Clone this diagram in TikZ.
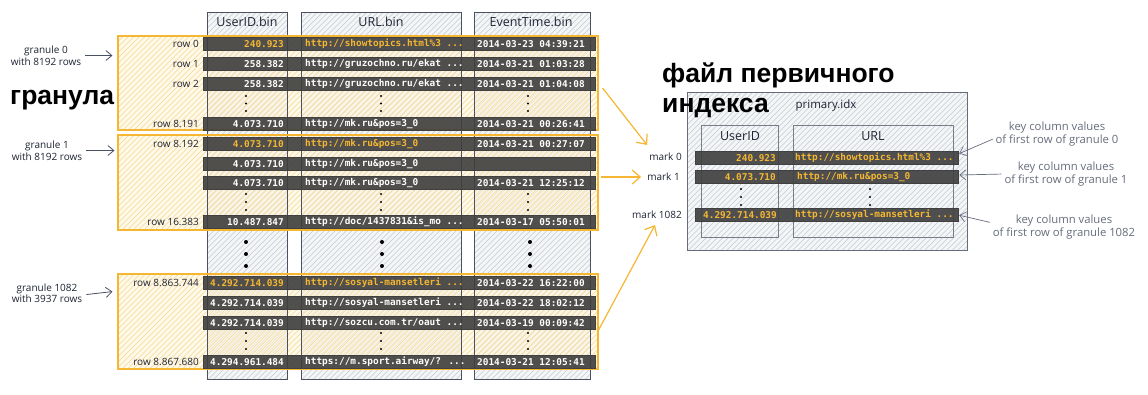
\documentclass[tikz,border=0pt]{standalone}
\usepackage{fontspec}
\setmainfont{Open Sans}
\newfontfamily\monof{DejaVu Sans Mono}
\newfontfamily\bigf{Liberation Sans}
\newfontfamily\handf{Open Sans}
\usetikzlibrary{arrows.meta,calc}
\definecolor{ink}{HTML}{1E2433}
\definecolor{slate}{HTML}{4A5162}
\definecolor{amber}{HTML}{F5B731}
\definecolor{amberfill}{HTML}{FFF5DC}
\definecolor{hatchy}{HTML}{F6D78F}
\definecolor{colfill}{HTML}{F4F5F7}
\definecolor{hatchg}{HTML}{C4C9D1}
\definecolor{barc}{HTML}{3E3E3E}
\definecolor{hl}{HTML}{F5B731}
\definecolor{note}{HTML}{666D7C}
\tikzset{
  colbox/.style={draw=slate, line width=0.9pt, inner sep=0},
  granbox/.style={draw=amber, line width=1.1pt, minimum width=480pt, minimum height=95pt, inner sep=0},
  barbox/.style={fill=barc, fill opacity=0.9, draw=black!75, line width=0.5pt,
    minimum width=392pt, minimum height=13pt, inner sep=0},
  ibarbox/.style={barbox, minimum width=263pt},
  celltxt/.style={font=\monof\bfseries\fontsize{9.4}{10}\selectfont, inner sep=0},
  rowlab/.style={font=\handf\fontsize{10}{11}\selectfont, text=ink, anchor=east, inner sep=0},
  hdr/.style={font=\handf\fontsize{12.5}{13}\selectfont, text=ink, inner sep=0},
  glab/.style={font=\handf\fontsize{10}{11.5}\selectfont, text=ink, align=center, inner sep=0},
  klab/.style={font=\handf\fontsize{11.3}{12.5}\selectfont, text=note, align=center, inner sep=0},
  garrow/.style={draw=slate, line width=0.8pt, -{Straight Barb[length=6pt,width=10pt]}},
  karrow/.style={draw=note, line width=0.7pt, -{Straight Barb[length=6pt,width=10pt]}},
  oarrow/.style={draw=amber, line width=1.2pt, -{Straight Barb[length=8pt,width=14pt]}},
  bigtxt/.style={font=\bigf\bfseries\fontsize{26.5}{30}\selectfont, text=black, inner sep=0},
  bdot/.style={circle, fill=black, inner sep=0, minimum size=4pt},
  sdot/.style={circle, fill=black, inner sep=0, minimum size=2.2pt},
}
% hatch a rectangle: x1 y1 x2 y2 (y1 top, y2 bottom), colour, spacing
\newcommand\hatchrect[6]{%
  \begin{scope}
  \clip (#1,#2) rectangle (#3,#4);
  \pgfmathsetmacro\hts{#1-(#4-#2)}
  \pgfmathsetmacro\htn{\hts+#6}
  \foreach \t in {\hts,\htn,...,#3} \draw[#5, line width=0.5pt] (\t,#4) -- ({\t+#4-#2},#2);
  \end{scope}}
\newcommand\colfillrect[4]{%
  \fill[colfill] (#1,#2) rectangle (#3,#4);
  \hatchrect{#1}{#2}{#3}{#4}{hatchg}{5.5}}
\newcommand\granfillrect[4]{%
  \fill[amberfill, fill opacity=0.6] (#1,#2) rectangle (#3,#4);
  \hatchrect{#1}{#2}{#3}{#4}{hatchy}{5.5}}
\newcommand\mkrow[6]{%
  \node[barbox] (#1) at (399,#2) {};
  \node[celltxt, text=#6, anchor=east] (#1u) at (284,#2) {#3};
  \node[celltxt, text=#6, anchor=west] (#1l) at (305,#2) {#4};
  \node[celltxt, text=white, anchor=west] (#1t) at (477,#2) {#5};
}
\newcommand\mkdots[4]{%
  \node[sdot] (#1a) at (#2,#3) {};
  \node[sdot] (#1b) at (#2,{(#3+#4)/2}) {};
  \node[sdot] (#1c) at (#2,#4) {};
}
\begin{document}
\begin{tikzpicture}[x=1pt,y=-1pt]
\fill[white] (0,0) rectangle (1148,394);
\useasboundingbox (0,0) rectangle (1148,394);

% columns
\colfillrect{207}{12}{287}{379}
\colfillrect{301}{12}{461}{379}
\colfillrect{474}{12}{590}{379}
% granule fills
\granfillrect{118}{36}{598}{130}
\granfillrect{118}{135}{598}{230}
\granfillrect{118}{274}{598}{369}
% column outlines
\node[colbox, minimum width=80pt, minimum height=367pt] (cU) at (247,195.5) {};
\node[colbox, minimum width=160pt, minimum height=367pt] (cL) at (381,195.5) {};
\node[colbox, minimum width=116pt, minimum height=367pt] (cT) at (532,195.5) {};
\node[hdr] (hU) at (247,22) {UserID.bin};
\node[hdr] (hL) at (381,22) {URL.bin};
\node[hdr] (hT) at (531,22) {EventTime.bin};

% granules
\node[granbox, minimum height=94pt] (G0) at (358,83) {};
\node[granbox] (G1) at (358,182.5) {};
\node[granbox] (G2) at (358,321.5) {};

% rows granule 0
\mkrow{r00}{44}{240.923}{http://showtopics.html\%3 ...}{2014-03-23 04:39:21}{hl}
\mkrow{r01}{64}{258.382}{http://gruzochno.ru/ekat ...}{2014-03-21 01:03:28}{white}
\mkrow{r02}{84}{258.382}{http://gruzochno.ru/ekat ...}{2014-03-21 01:04:08}{white}
\mkrow{r03}{124}{4.073.710}{http://mk.ru\&pos=3\_0}{2014-03-21 00:26:41}{white}
% rows granule 1
\mkrow{r10}{144}{4.073.710}{http://mk.ru\&pos=3\_0}{2014-03-21 00:27:07}{hl}
\mkrow{r11}{164}{4.073.710}{http://mk.ru\&pos=3\_0}{}{white}
\mkrow{r12}{183}{4.073.710}{http://mk.ru\&pos=3\_0}{2014-03-21 12:25:12}{white}
\mkrow{r13}{222}{10.487.847}{http://doc/1437831\&is\_mo ...}{2014-03-17 05:50:01}{white}
% rows granule 1082
\mkrow{r20}{283}{4.292.714.039}{http://sosyal-mansetleri ...}{2014-03-22 16:22:00}{hl}
\mkrow{r21}{303}{4.292.714.039}{http://sosyal-mansetleri ...}{2014-03-22 18:02:12}{white}
\mkrow{r22}{323}{4.292.714.039}{http://sozcu.com.tr/oaut ...}{2014-03-19 00:09:42}{white}
\mkrow{r23}{362}{4.294.961.484}{https://m.sport.airway/? ...}{2014-03-21 12:05:41}{white}

% small dots
\mkdots{d0u}{246}{96}{111}
\mkdots{d0l}{381}{96}{111}
\mkdots{d0t}{528}{96}{111}
\mkdots{d1u}{246}{194}{210}
\mkdots{d1l}{381}{194}{210}
\mkdots{d1t}{528}{194}{210}
\mkdots{d2u}{246}{333}{349}
\mkdots{d2l}{381}{333}{349}
\mkdots{d2t}{528}{333}{349}
% big dots
\foreach \xx/\nn in {246/u,382/l,530/t}{
  \node[bdot] (bd\nn a) at (\xx,242) {};
  \node[bdot] (bd\nn b) at (\xx,254) {};
  \node[bdot] (bd\nn c) at (\xx,266) {};
}

% row labels
\node[rowlab] (l00) at (199,44) {row 0};
\node[rowlab] (l01) at (199,64) {row 1};
\node[rowlab] (l02) at (199,84) {row 2};
\node[rowlab] (l03) at (199,124) {row 8.191};
\node[rowlab] (l10) at (199,144) {row 8.192};
\node[rowlab] (l13) at (199,222) {row 16.383};
\node[rowlab] (l20) at (199,283) {row 8.863.744};
\node[rowlab] (l23) at (199,362) {row 8.867.680};

% granule labels
\node[glab] (gl0) at (46,55.5) {granule 0\\with 8192 rows};
\node[glab] (gl1) at (47,150.5) {granule 1\\with 8192 rows};
\node[glab] (gl2) at (47,293) {granule 1082\\with 3937 rows};
\draw[garrow, shorten <=4pt, shorten >=5pt] (gl0.east) -- (G0.west |- gl0.east);
\draw[garrow, shorten <=4pt, shorten >=3pt] (gl1.east) -- (G1.west |- gl1.east);
\draw[garrow, shorten <=4pt, shorten >=5pt] ([yshift=-2pt]gl2.east) -- ([yshift=2pt]G2.west |- gl2.east);

% primary index
\fill[colfill] (687,92) rectangle (967,250);
\hatchrect{687}{92}{967}{250}{hatchg}{5.5}
\node[colbox, draw=slate!85, minimum width=280pt, minimum height=158pt] (PI) at (827,171) {};
\colfillrect{701}{125}{778}{237}
\colfillrect{793}{125}{953}{237}
\node[colbox, draw=slate!75, minimum width=77pt, minimum height=112pt] (iU) at (739.5,181) {};
\node[colbox, draw=slate!75, minimum width=160pt, minimum height=112pt] (iL) at (873,181) {};
\node[hdr, font=\handf\fontsize{11.5}{12}\selectfont] (pil) at (826,106) {primary.idx};
\node[hdr] (ihU) at (740,136) {UserID};
\node[hdr] (ihL) at (873,136) {URL};
\node[ibarbox] (ib0) at (826.5,158) {};
\node[ibarbox] (ib1) at (826.5,177) {};
\node[ibarbox] (ib2) at (826.5,215) {};
\node[celltxt, text=hl, anchor=east] (ib0u) at (776,158) {240.923};
\node[celltxt, text=hl, anchor=west] (ib0l) at (795,158) {http://showtopics.html\%3 ...};
\node[celltxt, text=hl, anchor=east] (ib1u) at (776,177) {4.073.710};
\node[celltxt, text=hl, anchor=west] (ib1l) at (797,177) {http://mk.ru\&pos=3\_0};
\node[celltxt, text=hl, anchor=east] (ib2u) at (777,215) {4.292.714.039};
\node[celltxt, text=hl, anchor=west] (ib2l) at (795,215) {http://sosyal-mansetleri ...};
\mkdots{idu}{741}{189}{205}
\mkdots{idl}{870}{189}{205}

% big texts
\node[bigtxt, anchor=west] (gr) at (10,100) {гранула};
\node[bigtxt, anchor=north west, align=left] (pf) at (662,63) {файл первичного\\индекса};

% marks
\node[rowlab] (m0) at (682,157) {mark 0};
\node[rowlab] (m1) at (680,177) {mark 1};
\node[rowlab] (m2) at (682,215) {mark 1082};

% orange arrows
\draw[oarrow] ([xshift=4pt,yshift=-5pt]G0.east) -- ([shift={(-2pt,8pt)}]m0.north west);
\draw[oarrow] ([xshift=2pt,yshift=5.5pt]G1.east) -- ([xshift=-6pt]m1.west);
\draw[oarrow] ([yshift=-8.5pt]G2.east) -- ([shift={(-2pt,-6pt)}]m2.south);

% key annotations
\node[klab] (k0) at (1057,134) {key column values\\of first row of granule 0};
\node[klab] (k1) at (1066,174) {key column values\\of first row of granule 1};
\node[klab] (k2) at (1064,227) {key column values\\of first row of granule 1082};
\draw[karrow, shorten <=3pt, shorten >=1pt] ([yshift=-4pt]k0.west) -- ([yshift=4pt]ib0.east);
\draw[karrow, shorten <=3pt, shorten >=1pt] (k1.west) -- ([yshift=2pt]ib1.east);
\draw[karrow, shorten <=3pt, shorten >=1pt] ([yshift=4pt]k2.west) -- (ib2.east);
\end{tikzpicture}
\end{document}
